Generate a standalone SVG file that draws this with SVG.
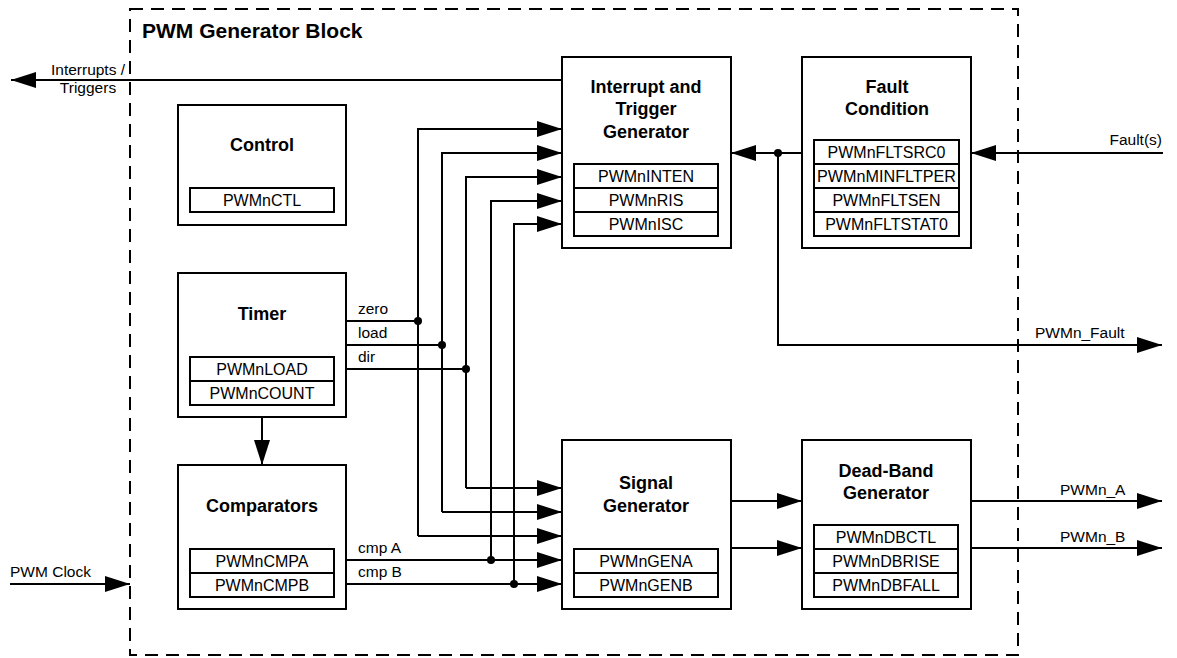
<svg xmlns="http://www.w3.org/2000/svg" width="1177" height="658" viewBox="0 0 1177 658">
<style>
.box{fill:#fff;stroke:#000;stroke-width:2}
.reg{fill:#fff;stroke:#000;stroke-width:2}
.ttl{font-family:"Liberation Sans",Arial,sans-serif;font-weight:bold;font-size:18px;text-anchor:middle;fill:#000}
.rt{font-family:"Liberation Sans",Arial,sans-serif;font-size:16px;text-anchor:middle;fill:#000}
.lbl{font-family:"Liberation Sans",Arial,sans-serif;font-size:15.5px;fill:#000}
.ln{fill:none;stroke:#000;stroke-width:2}
.arr{fill:none;stroke:#000;stroke-width:2;marker-end:url(#ah)}
.dot{fill:#000}
</style>
<defs>
<marker id="ah" markerUnits="userSpaceOnUse" markerWidth="26" markerHeight="16" refX="25" refY="8" orient="auto" overflow="visible">
<path d="M0,0 L25,8 L0,16 Z" fill="#000"/>
</marker>
</defs>
<rect width="1177" height="658" fill="#fff"/>
<g id="frame">
<rect x="130" y="9" width="888" height="646" fill="none" stroke="#000" stroke-width="2" stroke-dasharray="13 8"/>
<text x="142" y="38" style="font-family:'Liberation Sans',Arial,sans-serif;font-weight:bold;font-size:21px">PWM Generator Block</text>
</g>
<g id="connectors">
<path class="arr" d="M562,80 H11"/>
<path class="arr" d="M802,153 H731"/>
<path class="arr" d="M1163,153 H971"/>
<path class="arr" d="M778,153 V345 H1162"/>
<circle class="dot" cx="778" cy="153" r="4"/>
<path class="arr" d="M262,417 V465"/>
<path class="ln" d="M346,321 H418"/>
<path class="ln" d="M346,345 H442"/>
<path class="ln" d="M346,369 H466"/>
<path class="arr" d="M418,536 V129 H562"/>
<path class="arr" d="M442,512 V153 H562"/>
<path class="arr" d="M466,488 V177 H562"/>
<path class="arr" d="M491,560 V201 H562"/>
<path class="arr" d="M514,584 V224 H562"/>
<path class="arr" d="M418,536 H562"/>
<path class="arr" d="M442,512 H562"/>
<path class="arr" d="M466,488 H562"/>
<path class="arr" d="M346,560 H562"/>
<path class="arr" d="M346,584 H562"/>
<circle class="dot" cx="418" cy="321" r="4"/>
<circle class="dot" cx="442" cy="345" r="4"/>
<circle class="dot" cx="466" cy="369" r="4"/>
<circle class="dot" cx="491" cy="560" r="4"/>
<circle class="dot" cx="514" cy="584" r="4"/>
<path class="arr" d="M731,501 H802"/>
<path class="arr" d="M731,548 H802"/>
<path class="arr" d="M971,501 H1162"/>
<path class="arr" d="M971,548 H1162"/>
<path class="arr" d="M10,584 H130"/>
<text class="lbl" x="88" y="75" text-anchor="middle">Interrupts /</text>
<text class="lbl" x="88" y="93" text-anchor="middle">Triggers</text>
<text class="lbl" x="1162" y="145" text-anchor="end">Fault(s)</text>
<text class="lbl" x="1035" y="338">PWMn_Fault</text>
<text class="lbl" x="358" y="314">zero</text>
<text class="lbl" x="358" y="338">load</text>
<text class="lbl" x="358" y="362">dir</text>
<text class="lbl" x="358" y="553">cmp A</text>
<text class="lbl" x="358" y="577">cmp B</text>
<text class="lbl" x="1060" y="495">PWMn_A</text>
<text class="lbl" x="1060" y="542">PWMn_B</text>
<text class="lbl" x="10" y="577">PWM Clock</text>
</g>
<g id="control">
<rect class="box" x="178" y="105" width="168" height="120"/>
<text class="ttl" x="262" y="151">Control</text>
<rect class="reg" x="190" y="188" width="144" height="24"/>
<text class="rt" x="262" y="206">PWMnCTL</text>
</g>
<g id="timer">
<rect class="box" x="178" y="273" width="168" height="144"/>
<text class="ttl" x="262" y="320">Timer</text>
<rect class="reg" x="190" y="357" width="144" height="24"/>
<rect class="reg" x="190" y="381" width="144" height="24"/>
<text class="rt" x="262" y="375">PWMnLOAD</text>
<text class="rt" x="262" y="399">PWMnCOUNT</text>
</g>
<g id="comparators">
<rect class="box" x="178" y="465" width="168" height="144"/>
<text class="ttl" x="262" y="512">Comparators</text>
<rect class="reg" x="190" y="549" width="144" height="24"/>
<rect class="reg" x="190" y="573" width="144" height="24"/>
<text class="rt" x="262" y="567">PWMnCMPA</text>
<text class="rt" x="262" y="591">PWMnCMPB</text>
</g>
<g id="interrupt">
<rect class="box" x="562" y="57" width="169" height="191"/>
<text class="ttl" x="646" y="93">Interrupt and</text>
<text class="ttl" x="646" y="115">Trigger</text>
<text class="ttl" x="646" y="138">Generator</text>
<rect class="reg" x="574" y="164" width="144" height="24"/>
<rect class="reg" x="574" y="188" width="144" height="24"/>
<rect class="reg" x="574" y="212" width="144" height="24"/>
<text class="rt" x="646" y="182">PWMnINTEN</text>
<text class="rt" x="646" y="206">PWMnRIS</text>
<text class="rt" x="646" y="230">PWMnISC</text>
</g>
<g id="fault">
<rect class="box" x="802" y="57" width="169" height="191"/>
<text class="ttl" x="887" y="93">Fault</text>
<text class="ttl" x="887" y="115">Condition</text>
<rect class="reg" x="814" y="140" width="145" height="24"/>
<rect class="reg" x="814" y="164" width="145" height="24"/>
<rect class="reg" x="814" y="188" width="145" height="24"/>
<rect class="reg" x="814" y="212" width="145" height="24"/>
<text class="rt" x="886.5" y="158">PWMnFLTSRC0</text>
<text class="rt" x="886.5" y="182" textLength="139" lengthAdjust="spacingAndGlyphs">PWMnMINFLTPER</text>
<text class="rt" x="886.5" y="206">PWMnFLTSEN</text>
<text class="rt" x="886.5" y="230">PWMnFLTSTAT0</text>
</g>
<g id="signal">
<rect class="box" x="562" y="440" width="169" height="169"/>
<text class="ttl" x="646" y="489">Signal</text>
<text class="ttl" x="646" y="512">Generator</text>
<rect class="reg" x="574" y="549" width="144" height="24"/>
<rect class="reg" x="574" y="573" width="144" height="24"/>
<text class="rt" x="646" y="567">PWMnGENA</text>
<text class="rt" x="646" y="591">PWMnGENB</text>
</g>
<g id="deadband">
<rect class="box" x="802" y="440" width="169" height="169"/>
<text class="ttl" x="886" y="477">Dead-Band</text>
<text class="ttl" x="886" y="499">Generator</text>
<rect class="reg" x="814" y="525" width="144" height="24"/>
<rect class="reg" x="814" y="549" width="144" height="24"/>
<rect class="reg" x="814" y="573" width="144" height="24"/>
<text class="rt" x="886" y="543">PWMnDBCTL</text>
<text class="rt" x="886" y="567">PWMnDBRISE</text>
<text class="rt" x="886" y="591">PWMnDBFALL</text>
</g>
</svg>
